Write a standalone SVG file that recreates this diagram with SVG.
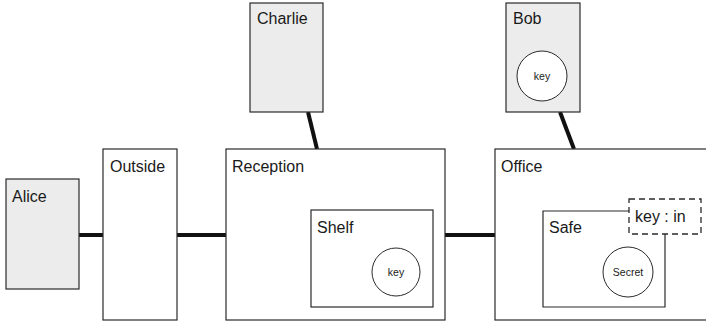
<svg xmlns="http://www.w3.org/2000/svg" width="706" height="325" viewBox="0 0 706 325">
<style>
.box{fill:#ffffff;stroke:#2a2a2a;stroke-width:1.2}
.agent{fill:#ececec;stroke:#2a2a2a;stroke-width:1.2}
.circ{fill:#ffffff;stroke:#2a2a2a;stroke-width:1}
.lbl{font-family:"Liberation Sans",Arial,sans-serif;font-size:16px;fill:#1a1a1a}
.sm{font-family:"Liberation Sans",Arial,sans-serif;font-size:10.5px;fill:#1a1a1a;text-anchor:middle}
.conn{stroke:#111111;stroke-width:4;fill:none}
</style>
<rect width="706" height="325" fill="#ffffff"/>
<g id="connectors">
<line class="conn" x1="79" y1="235" x2="103" y2="235"/>
<line class="conn" x1="176" y1="235" x2="227" y2="235"/>
<line class="conn" x1="445" y1="235" x2="495" y2="235"/>
<line class="conn" x1="308" y1="112" x2="317" y2="149"/>
<line class="conn" x1="560" y1="112" x2="574" y2="149"/>
</g>
<g id="alice">
<rect class="agent" x="6" y="179" width="73" height="110"/>
<text class="lbl" x="12" y="202">Alice</text>
</g>
<g id="outside">
<rect class="box" x="103" y="149" width="74" height="171"/>
<text class="lbl" x="110" y="172">Outside</text>
</g>
<g id="charlie">
<rect class="agent" x="250" y="3" width="73" height="109"/>
<text class="lbl" x="257" y="24">Charlie</text>
</g>
<g id="reception">
<rect class="box" x="226" y="149" width="219" height="171"/>
<text class="lbl" x="232" y="172">Reception</text>
</g>
<g id="shelf">
<rect class="box" x="311" y="210" width="122" height="97"/>
<text class="lbl" x="317" y="233">Shelf</text>
</g>
<g id="shelf-key">
<circle class="circ" cx="396" cy="272" r="24"/>
<text class="sm" x="396" y="276">key</text>
</g>
<g id="bob">
<rect class="agent" x="506" y="3" width="74" height="109"/>
<text class="lbl" x="513" y="24">Bob</text>
</g>
<g id="bob-key">
<circle class="circ" cx="542" cy="76" r="25"/>
<text class="sm" x="542" y="80">key</text>
</g>
<g id="office">
<rect class="box" x="495" y="149" width="215" height="171"/>
<text class="lbl" x="501" y="172">Office</text>
</g>
<g id="safe">
<path class="box" d="M629,211 H543 V307 H665 V234"/>
<text class="lbl" x="549" y="233">Safe</text>
</g>
<g id="secret">
<circle class="circ" cx="628" cy="272" r="25"/>
<text class="sm" x="628" y="276">Secret</text>
</g>
<g id="key-in">
<rect x="629" y="199" width="72" height="35" fill="#ffffff" stroke="#2a2a2a" stroke-width="1.3" stroke-dasharray="6,4"/>
<text class="lbl" x="635" y="222">key : in</text>
</g>
</svg>
